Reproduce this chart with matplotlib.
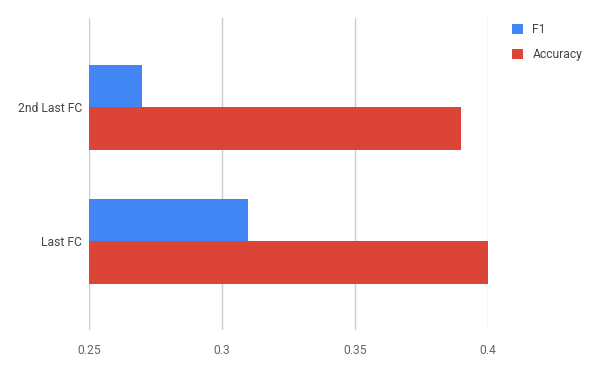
import numpy as np
import matplotlib
matplotlib.use("Agg")
import matplotlib.pyplot as plt

plt.rcParams['font.family'] = ['Roboto', 'DejaVu Sans']

categories = ['2nd Last FC', 'Last FC']
f1 = [0.27, 0.31]
accuracy = [0.39, 0.40]
x_ticks = [0.25, 0.3, 0.35, 0.4]
x_tick_labels = ['0.25', '0.3', '0.35', '0.4']

blue = '#4285F4'
red = '#DB4437'

fig = plt.figure(figsize=(6, 3.71), dpi=100)
ax = fig.add_axes([0.148, 0.110, 0.665, 0.841])

y = np.arange(len(categories))
h = 0.317
left = 0.25
ax.barh(y - h / 2, np.array(f1) - left, left=left, height=h, color=blue, label='F1', zorder=2)
ax.barh(y + h / 2, np.array(accuracy) - left, left=left, height=h, color=red, label='Accuracy', zorder=2)

ax.set_xlim(0.25, 0.4)
ax.set_ylim(1.665, -0.665)
ax.set_yticks(y)
ax.set_yticklabels(categories, color='#444444', fontsize=8.7)
ax.set_xticks(x_ticks)
ax.set_xticklabels(x_tick_labels, color='#666666', fontsize=8.7)
ax.tick_params(length=0, pad=10)
ax.tick_params(axis='y', pad=5)
ax.grid(axis='x', color='#cccccc', linewidth=1, zorder=0)
for s in ax.spines.values():
    s.set_visible(False)

fig.legend(loc='upper left', bbox_to_anchor=(0.835, 0.968), frameon=False,
           fontsize=8.7, handlelength=0.9, handleheight=0.9, handletextpad=0.8,
           labelspacing=1.0, labelcolor='#444444')

fig.savefig('out.png', dpi=100)
